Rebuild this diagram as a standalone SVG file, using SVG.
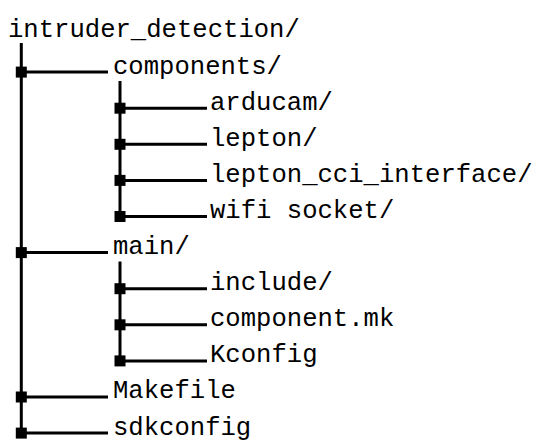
<svg xmlns="http://www.w3.org/2000/svg" width="537" height="442" viewBox="0 0 537 442">
<style>
.t{font-family:"Liberation Mono","DejaVu Sans Mono",monospace;font-size:25.6px;fill:#000}
.l{stroke:#000;stroke-width:3;fill:none}
.sq{fill:#000}
</style>
<defs><rect id="sq" x="-5.5" y="-5.5" width="11" height="11" class="sq"/></defs>
<rect width="537" height="442" fill="#fff"/>
<g id="connectors">
<path class="l" d="M21.3,43V433.1"/>
<path class="l" d="M120,81V216.5"/>
<path class="l" d="M120,261.5V360.9"/>
<path class="l" d="M21.3,72.1H108M21.3,252.6H108M21.3,397H108M21.3,433.1H108"/>
<path class="l" d="M120,108.2H207M120,144.3H207M120,180.4H207M120,216.5H207M120,288.7H207M120,324.8H207M120,360.9H207"/>
<use href="#sq" x="21.3" y="72.1"/>
<use href="#sq" x="21.3" y="252.6"/>
<use href="#sq" x="21.3" y="397"/>
<use href="#sq" x="21.3" y="433.1"/>
<use href="#sq" x="120" y="108.2"/>
<use href="#sq" x="120" y="144.3"/>
<use href="#sq" x="120" y="180.4"/>
<use href="#sq" x="120" y="216.5"/>
<use href="#sq" x="120" y="288.7"/>
<use href="#sq" x="120" y="324.8"/>
<use href="#sq" x="120" y="360.9"/>
</g>
<g id="root"><text class="t" x="8" y="37">intruder_detection/</text></g>
<g id="components"><text class="t" x="113" y="73.5">components/</text></g>
<g id="arducam"><text class="t" x="210" y="109.6">arducam/</text></g>
<g id="lepton"><text class="t" x="210" y="145.7">lepton/</text></g>
<g id="lepton_cci_interface"><text class="t" x="210" y="181.8">lepton_cci_interface/</text></g>
<g id="wifi_socket"><text class="t" x="210" y="217.9">wifi socket/</text></g>
<g id="main"><text class="t" x="113" y="254">main/</text></g>
<g id="include"><text class="t" x="210" y="290.1">include/</text></g>
<g id="component_mk"><text class="t" x="210" y="326.2">component.mk</text></g>
<g id="Kconfig"><text class="t" x="210" y="362.3">Kconfig</text></g>
<g id="Makefile"><text class="t" x="113" y="398.4">Makefile</text></g>
<g id="sdkconfig"><text class="t" x="113" y="434.5">sdkconfig</text></g>
</svg>
